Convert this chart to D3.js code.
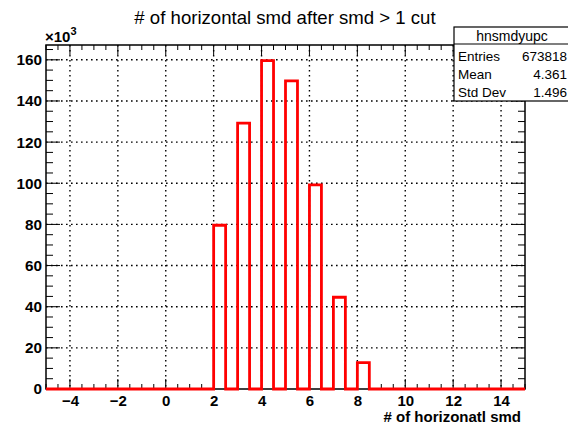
<!DOCTYPE html>
<html><head><meta charset="utf-8">
<script src="https://cdn.jsdelivr.net/npm/d3@7"></script>
<style>body{margin:0;background:#fff;} svg{display:block;font-family:"Liberation Sans",Arial,Helvetica,sans-serif;}</style>
</head><body>
<svg id="c" width="568" height="425"></svg>
<script>
// Data (counts in units of 10^3), bins of width 0.5 from -5 to 15
const binLow = [2, 3, 4, 5, 6, 7, 8];
const binCounts = [79.6, 129.2, 159.6, 149.8, 99.2, 44.6, 12.8];
const binWidth = 0.5;
const xTicks = [-4, -2, 0, 2, 4, 6, 8, 10, 12, 14];
const yTicks = [0, 20, 40, 60, 80, 100, 120, 140, 160];
const statLabels = ["Entries", "Mean", "Std Dev"];
const statValues = ["673818", "4.361", "1.496"];
const title = "# of horizontal smd after smd > 1 cut";
const xTitle = "# of horizonatl smd";
const histName = "hnsmdyupc";

const svg = d3.select("#c");
const L = 46, R = 525, T = 45, B = 389;
const x = d3.scaleLinear().domain([-5, 15]).range([L, R]);
const y = d3.scaleLinear().domain([0, 167.2]).range([B, T]);

// grid
const g = svg.append("g");
g.selectAll(".gx").data(xTicks).enter().append("line")
  .attr("x1", d => x(d)).attr("x2", d => x(d)).attr("y1", T).attr("y2", B)
  .attr("stroke", "#000").attr("stroke-width", 1.4).attr("stroke-dasharray", "1.6,3.4");
g.selectAll(".gy").data(yTicks.filter(d => d > 0)).enter().append("line")
  .attr("x1", L).attr("x2", R).attr("y1", d => y(d)).attr("y2", d => y(d))
  .attr("stroke", "#000").attr("stroke-width", 1.4).attr("stroke-dasharray", "1.6,3.4");

// axes ticks (ROOT style: inside)
const xMinor = d3.range(-5, 15.001, 0.5);
const yMinor = d3.range(0, 167, 5);
function tickLines(sel, data, isMajor, orient) {
  sel.selectAll(null).data(data).enter().append("line")
    .attr("stroke", "#000").attr("stroke-width", 1)
    .each(function(d) {
      const s = d3.select(this);
      if (orient === "bottom") { const len = isMajor(d) ? 10 : 5; s.attr("x1", x(d)).attr("x2", x(d)).attr("y1", B).attr("y2", B - len); }
      if (orient === "top") { const len = isMajor(d) ? 10 : 5; s.attr("x1", x(d)).attr("x2", x(d)).attr("y1", T).attr("y2", T + len); }
      if (orient === "left") { const len = isMajor(d) ? 14 : 7; s.attr("y1", y(d)).attr("y2", y(d)).attr("x1", L).attr("x2", L + len); }
      if (orient === "right") { const len = isMajor(d) ? 14 : 7; s.attr("y1", y(d)).attr("y2", y(d)).attr("x1", R).attr("x2", R - len); }
    });
}
const isXMaj = d => Math.abs(d % 2) < 1e-6;
const isYMaj = d => d % 20 === 0;
tickLines(svg.append("g"), xMinor, isXMaj, "bottom");
tickLines(svg.append("g"), xMinor, isXMaj, "top");
tickLines(svg.append("g"), yMinor, isYMaj, "left");
tickLines(svg.append("g"), yMinor, isYMaj, "right");

// frame
svg.append("rect").attr("x", L).attr("y", T).attr("width", R - L).attr("height", B - T)
  .attr("fill", "none").attr("stroke", "#000").attr("stroke-width", 1.5);

// axis labels via d3 axes (text only)
const xAxis = d3.axisBottom(x).tickValues(xTicks).tickSize(0).tickPadding(5)
  .tickFormat(d => d < 0 ? "\u2212" + Math.abs(d) : d);
const xa = svg.append("g").attr("transform", `translate(0,${B})`).call(xAxis);
xa.select(".domain").remove();
xa.selectAll("text").attr("font-family", "Liberation Sans, Arial, sans-serif").attr("font-size", 15).attr("font-weight", "bold").attr("dy", "0.78em");
const yAxis = d3.axisLeft(y).tickValues(yTicks).tickSize(0).tickPadding(4);
const ya = svg.append("g").attr("transform", `translate(${L},0)`).call(yAxis);
ya.select(".domain").remove();
ya.selectAll("text").attr("font-family", "Liberation Sans, Arial, sans-serif").attr("font-size", 15.3).attr("font-weight", "bold");

// histogram step line
const pts = [[-5, 0]];
binLow.forEach((b, i) => {
  pts.push([b, 0], [b, binCounts[i]], [b + binWidth, binCounts[i]], [b + binWidth, 0]);
});
pts.push([15, 0]);
svg.append("path").datum(pts)
  .attr("d", d3.line().x(d => x(d[0])).y(d => y(d[1])))
  .attr("fill", "none").attr("stroke", "#ff0000").attr("stroke-width", 2.8).attr("stroke-linejoin", "miter");

// title
svg.append("text").attr("x", 285).attr("y", 24).attr("text-anchor", "middle")
  .attr("font-size", 18.6).text(title);
// x title
svg.append("text").attr("x", 521).attr("y", 422).attr("text-anchor", "end")
  .attr("font-size", 15).attr("font-weight", "bold").text(xTitle);
// x10^3
const ex = svg.append("text").attr("x", 45).attr("y", 42).attr("font-size", 15).attr("font-weight", "bold");
ex.append("tspan").text("\u00d710");
ex.append("tspan").attr("font-size", 11).attr("dy", -7).text("3");

// stats box
const sb = svg.append("g");
const SX = 454, SY = 27, SW = 120, SH = 74;
sb.append("rect").attr("x", SX).attr("y", SY).attr("width", SW).attr("height", SH)
  .attr("fill", "#fff").attr("stroke", "#000").attr("stroke-width", 1.2);
sb.append("line").attr("x1", SX).attr("x2", SX + SW).attr("y1", SY + 17).attr("y2", SY + 17).attr("stroke", "#000").attr("stroke-width", 1.2);
sb.append("text").attr("x", 512).attr("y", SY + 14).attr("text-anchor", "middle").attr("font-size", 14).text(histName);
statLabels.forEach((s, i) => {
  sb.append("text").attr("x", 458).attr("y", SY + 34 + i * 18).attr("font-size", 13.5).text(s);
  sb.append("text").attr("x", 567).attr("y", SY + 34 + i * 18).attr("text-anchor", "end").attr("font-size", 13.5).text(statValues[i]);
});
</script>
</body></html>
